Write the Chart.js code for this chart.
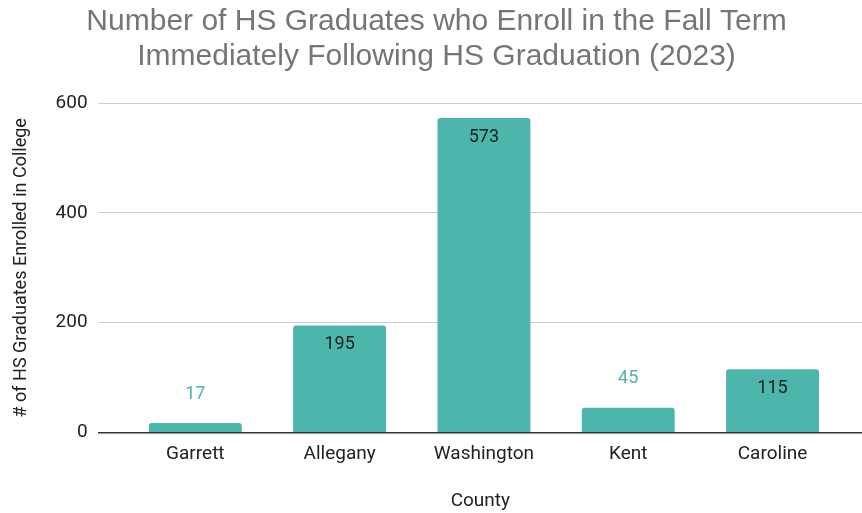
<!DOCTYPE html>
<html lang="en">
<head>
    <meta charset="UTF-8" />
    <title>HS Graduates Enrolled in College</title>
    <script src="https://cdn.jsdelivr.net/npm/chart.js"></script>
    <style>
        body { margin: 0; background: #fff; }
        #wrap { width: 862px; height: 513px; }
    </style>
</head>
<body>
    <div id="wrap"><canvas id="chart" width="862" height="513"></canvas></div>

    <script>
        const counties = ['Garrett', 'Allegany', 'Washington', 'Kent', 'Caroline'];
        const enrolled = [17, 195, 573, 45, 115];
        const yTicks = [0, 200, 400, 600];

        const teal = '#4db6ac';

        // value labels: inside the bar when it is tall enough, above it otherwise
        const valueLabels = {
            id: 'valueLabels',
            afterDatasetsDraw(chart) {
                const ctx = chart.ctx;
                const meta = chart.getDatasetMeta(0);
                ctx.save();
                ctx.font = '18px Roboto';
                ctx.textAlign = 'center';
                ctx.textBaseline = 'middle';
                meta.data.forEach((bar, i) => {
                    const h = bar.base - bar.y;
                    if (h > 40) {
                        ctx.fillStyle = '#212121';
                        ctx.fillText(enrolled[i], bar.x, bar.y + 19);
                    } else {
                        ctx.fillStyle = teal;
                        ctx.fillText(enrolled[i], bar.x, bar.y - 29);
                    }
                });
                ctx.restore();
            }
        };

        new Chart(document.getElementById('chart'), {
            type: 'bar',
            data: {
                datasets: [{
                    data: enrolled.map((v, i) => ({ x: i, y: v })),
                    backgroundColor: teal,
                    borderRadius: 3,
                    barPercentage: 0.644,
                    categoryPercentage: 1
                }]
            },
            options: {
                responsive: false,
                animation: false,
                layout: { padding: { left: 11, right: 0, top: 4, bottom: 0 } },
                plugins: {
                    legend: { display: false },
                    tooltip: { enabled: false },
                    title: {
                        display: true,
                        text: ['Number of HS Graduates who Enroll in the Fall Term',
                               'Immediately Following HS Graduation (2023)'],
                        color: '#757575',
                        font: { family: 'Liberation Sans', size: 30, weight: 'normal', lineHeight: 1.17 },
                        padding: { top: 0, bottom: 29 }
                    }
                },
                scales: {
                    x: {
                        type: 'linear',
                        min: -0.67,
                        max: 4.62,
                        offset: false,
                        grid: { display: false, drawTicks: false },
                        border: { display: true, color: '#333', width: 1.5 },
                        afterBuildTicks: axis => {
                            axis.ticks = counties.map((c, i) => ({ value: i }));
                        },
                        ticks: {
                            padding: 10,
                            color: '#222',
                            font: { family: 'Roboto', size: 19 },
                            callback: v => counties[v] ?? ''
                        },
                        title: {
                            display: true,
                            text: 'County',
                            color: '#222',
                            font: { family: 'Roboto', size: 19 },
                            padding: { top: 15, bottom: 0 }
                        }
                    },
                    y: {
                        min: 0,
                        max: 600,
                        afterBuildTicks: axis => {
                            axis.ticks = yTicks.map(v => ({ value: v }));
                        },
                        grid: {
                            color: ctx => ctx.tick && ctx.tick.value === 0 ? 'rgba(0,0,0,0)' : '#cccccc',
                            drawTicks: false
                        },
                        border: { display: false },
                        ticks: {
                            padding: 11,
                            color: '#222',
                            font: { family: 'Roboto', size: 19 }
                        },
                        title: {
                            display: true,
                            text: '# of HS Graduates Enrolled in College',
                            color: '#222',
                            font: { family: 'Roboto', size: 18 },
                            padding: { top: 0, bottom: 12 }
                        }
                    }
                }
            },
            plugins: [valueLabels]
        });
    </script>
</body>
</html>
